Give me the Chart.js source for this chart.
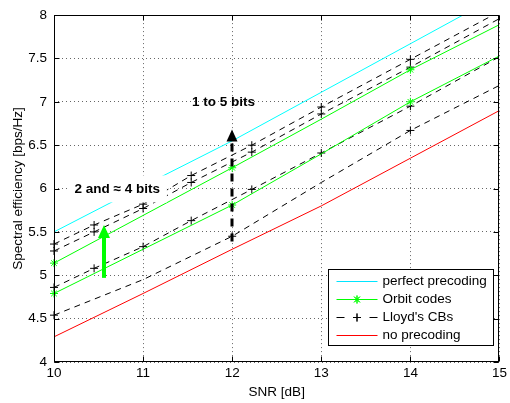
<!DOCTYPE html>
<html><head><meta charset="utf-8">
<script src="https://cdn.jsdelivr.net/npm/chart.js@4/dist/chart.umd.min.js"></script>
<style>html,body{margin:0;padding:0;background:#fff;} canvas{display:block;}</style>
</head><body>
<canvas id="c" width="510" height="403"></canvas>
<script>
// ---- data ----
const snrCoarse = [10, 11, 12, 13, 14, 15];
const snrLloyd = [10, 10.45, 11, 11.54, 12.22, 13, 14, 15];
const perfectPrecoding = [5.50, 6.03, 6.55, 7.11, 7.67, 8.23];
const orbitHigh = [5.14, 5.69, 6.24, 6.80, 7.37, 7.89];
const orbitLow = [4.79, 5.30, 5.81, 6.40, 7.00, 7.53];
const lloyd1 = [5.36, 5.58, 5.82, 6.15, 6.50, 6.94, 7.49, 8.04];
const lloyd2 = [5.28, 5.50, 5.77, 6.07, 6.42, 6.86, 7.40, 7.96];
const lloyd3 = [4.86, 5.08, 5.33, 5.63, 5.99, 6.41, 6.95, 7.52];
const lloyd4 = [4.54, 4.95, 5.45, 6.07, 6.67, 7.19];
const noPrecoding = [4.29, 4.79, 5.30, 5.80, 6.35, 6.90];
const xTicks = [10, 11, 12, 13, 14, 15];
const yTicks = [4, 4.5, 5, 5.5, 6, 6.5, 7, 7.5, 8];
const legendLabels = ['perfect precoding', 'Orbit codes', "Lloyd's CBs", 'no precoding'];
const annotationLow = '2 and \u2248 4 bits';
const annotationHigh = '1 to 5 bits';
const arrowGreen = [10.565, 4.97, 5.58];   // x, from, tip
const arrowBlack = [12, 5.39, 6.68];       // x, from, tip
const annotationLowPos = [10.23, 5.99];
const annotationHighPos = [11.55, 6.99];

const FONT = '"Liberation Sans", Arial, Helvetica, sans-serif';
const pts = (xs, ys) => xs.map((v, i) => ({x: v, y: ys[i]}));
const markEvery = (n, idx, r) => Array.from({length: n}, (_, i) => idx.includes(i) ? r : 0);
const CLIP = {left: 6, top: 0, right: 0, bottom: 0};

const datasets = [
  {label: legendLabels[0], data: pts(snrCoarse, perfectPrecoding), borderColor: '#00ffff', borderWidth: 1, pointRadius: 0},
  {label: legendLabels[1], data: pts(snrCoarse, orbitHigh), borderColor: '#00ff00', borderWidth: 1, clip: CLIP,
    pointStyle: 'star', pointRadius: markEvery(6, [0, 2, 4], 4), pointBorderColor: '#00ff00', pointBorderWidth: 1},
  {label: legendLabels[1], data: pts(snrCoarse, orbitLow), borderColor: '#00ff00', borderWidth: 1, clip: CLIP,
    pointStyle: 'star', pointRadius: markEvery(6, [0, 2, 4], 4), pointBorderColor: '#00ff00', pointBorderWidth: 1},
  {label: legendLabels[2], data: pts(snrLloyd, lloyd1), borderColor: '#000', borderWidth: 1, borderDash: [6, 5], clip: CLIP,
    pointStyle: 'cross', pointRadius: markEvery(8, [0,1,2,3,4,5,6], 4), pointBorderColor: '#000', pointBorderWidth: 1},
  {label: legendLabels[2], data: pts(snrLloyd, lloyd2), borderColor: '#000', borderWidth: 1, borderDash: [6, 5], clip: CLIP,
    pointStyle: 'cross', pointRadius: markEvery(8, [0,1,2,3,4,5,6], 4), pointBorderColor: '#000', pointBorderWidth: 1},
  {label: legendLabels[2], data: pts(snrLloyd, lloyd3), borderColor: '#000', borderWidth: 1, borderDash: [6, 5], clip: CLIP,
    pointStyle: 'cross', pointRadius: markEvery(8, [0,1,2,3,4,5,6], 4), pointBorderColor: '#000', pointBorderWidth: 1},
  {label: legendLabels[2], data: pts(snrCoarse, lloyd4), borderColor: '#000', borderWidth: 1, borderDash: [6, 5], clip: CLIP,
    pointStyle: 'cross', pointRadius: markEvery(6, [0, 2, 4], 4), pointBorderColor: '#000', pointBorderWidth: 1},
  {label: legendLabels[3], data: pts(snrCoarse, noPrecoding), borderColor: '#ff0000', borderWidth: 1, pointRadius: 0}
];

function drawArrow(ctx, px, pyFrom, pyTip, color, lw, dash, headW, headL) {
  ctx.save();
  ctx.strokeStyle = color; ctx.fillStyle = color; ctx.lineWidth = lw;
  ctx.setLineDash(dash);
  ctx.beginPath(); ctx.moveTo(px, pyFrom); ctx.lineTo(px, pyTip + headL); ctx.stroke();
  ctx.setLineDash([]);
  ctx.beginPath(); ctx.moveTo(px, pyTip); ctx.lineTo(px - headW, pyTip + headL); ctx.lineTo(px + headW, pyTip + headL); ctx.closePath(); ctx.fill();
  ctx.restore();
}

const overlay = {
  id: 'overlay',
  afterDatasetsDraw(chart) {
    const {ctx, chartArea: a, scales: {x, y}} = chart;
    ctx.save();
    // annotation with white background
    ctx.font = 'bold 13.5px ' + FONT;
    ctx.textBaseline = 'middle'; ctx.textAlign = 'left';
    const lx = x.getPixelForValue(annotationLowPos[0]), ly = y.getPixelForValue(annotationLowPos[1]);
    const w = ctx.measureText(annotationLow).width;
    ctx.fillStyle = '#fff';
    ctx.fillRect(lx - 5, ly - 14, w + 12, 27);
    ctx.fillStyle = '#000';
    ctx.fillText(annotationLow, lx, ly);
    ctx.fillText(annotationHigh, x.getPixelForValue(annotationHighPos[0]), y.getPixelForValue(annotationHighPos[1]));

    // arrows
    drawArrow(ctx, Math.round(x.getPixelForValue(arrowGreen[0])), y.getPixelForValue(arrowGreen[1]), y.getPixelForValue(arrowGreen[2]), '#00ff00', 4, [], 6, 13);
    drawArrow(ctx, Math.round(x.getPixelForValue(arrowBlack[0])), y.getPixelForValue(arrowBlack[1]), y.getPixelForValue(arrowBlack[2]), '#000', 3, [8, 7], 5.5, 12);

    // frame
    ctx.strokeStyle = '#000'; ctx.lineWidth = 1; ctx.setLineDash([]);
    const L = Math.round(a.left) + 0.5, R = Math.round(a.right) - 0.5, T = Math.round(a.top) + 0.5, B = Math.round(a.bottom) - 0.5;
    ctx.strokeRect(L, T, R - L, B - T);
    // inward tick marks
    ctx.beginPath();
    xTicks.forEach(v => { const p = Math.round(x.getPixelForValue(v)) + 0.5; ctx.moveTo(p, B); ctx.lineTo(p, B - 5); ctx.moveTo(p, T); ctx.lineTo(p, T + 5); });
    yTicks.forEach(v => { const p = Math.round(y.getPixelForValue(v)) + 0.5; ctx.moveTo(L, p); ctx.lineTo(L + 5, p); ctx.moveTo(R, p); ctx.lineTo(R - 5, p); });
    ctx.stroke();

    // legend
    const bw = 165, bh = 76;
    const bx = Math.round(a.right) - 6 - bw + 0.5, by = Math.round(a.bottom) - 17 - bh + 0.5;
    ctx.fillStyle = '#fff'; ctx.fillRect(bx, by, bw, bh);
    ctx.strokeStyle = '#000'; ctx.lineWidth = 1; ctx.strokeRect(bx, by, bw, bh);
    const colors = ['#00e5ff', '#00ff00', '#000', '#ff0000'];
    const styles = [false, 'star', 'cross', false];
    ctx.font = '13.5px ' + FONT; ctx.textBaseline = 'middle'; ctx.textAlign = 'left';
    legendLabels.forEach((lab, i) => {
      const ry = Math.round(by + 11 + i * 18) + 0.5;
      const x0 = bx + 8, x1 = bx + 49;
      ctx.save();
      ctx.strokeStyle = colors[i]; ctx.lineWidth = 1;
      ctx.setLineDash(i === 2 ? [8, 25] : []);
      ctx.beginPath(); ctx.moveTo(x0, ry); ctx.lineTo(x1, ry); ctx.stroke();
      ctx.setLineDash([]);
      if (styles[i]) {
        Chart.helpers.drawPoint(ctx, {pointStyle: styles[i], radius: 4, borderWidth: 1, rotation: 0}, (x0 + x1) / 2, ry);
        ctx.stroke();
      }
      ctx.restore();
      ctx.fillStyle = '#000';
      ctx.fillText(lab, bx + 54, ry);
    });
    ctx.restore();
  }
};

new Chart(document.getElementById('c'), {
  type: 'line',
  data: {datasets},
  options: {
    responsive: false, animation: false, devicePixelRatio: 1,
    layout: {padding: {top: 10, right: 8, left: 0, bottom: 0}},
    plugins: {legend: {display: false}, tooltip: {enabled: false}},
    elements: {line: {tension: 0}},
    scales: {
      x: {
        type: 'linear', min: 10, max: 15,
        afterBuildTicks: s => { s.ticks = xTicks.map(v => ({value: v})); },
        afterFit: s => { s.height = 41; },
        ticks: {font: {family: FONT, size: 13.5}, color: '#000', padding: 3, maxRotation: 0, callback: v => String(v)},
        grid: {color: 'rgba(0,0,0,0.6)', lineWidth: 1, drawTicks: false},
        border: {display: false, dash: [1, 3]},
        title: {display: true, text: 'SNR [dB]', font: {family: FONT, size: 13.5}, color: '#000', padding: {top: 0, bottom: 3}}
      },
      y: {
        type: 'linear', min: 4, max: 8,
        afterBuildTicks: s => { s.ticks = yTicks.map(v => ({value: v})); },
        afterFit: s => { s.width = 54; },
        ticks: {font: {family: FONT, size: 13.5}, color: '#000', padding: 7, callback: v => String(v)},
        grid: {color: 'rgba(0,0,0,0.6)', lineWidth: 1, drawTicks: false},
        border: {display: false, dash: [1, 3]},
        title: {display: true, text: 'Spectral efficiency [bps/Hz]', font: {family: FONT, size: 13.5}, color: '#000', padding: {top: 10, bottom: 0}}
      }
    }
  },
  plugins: [overlay]
});
</script>
</body></html>
